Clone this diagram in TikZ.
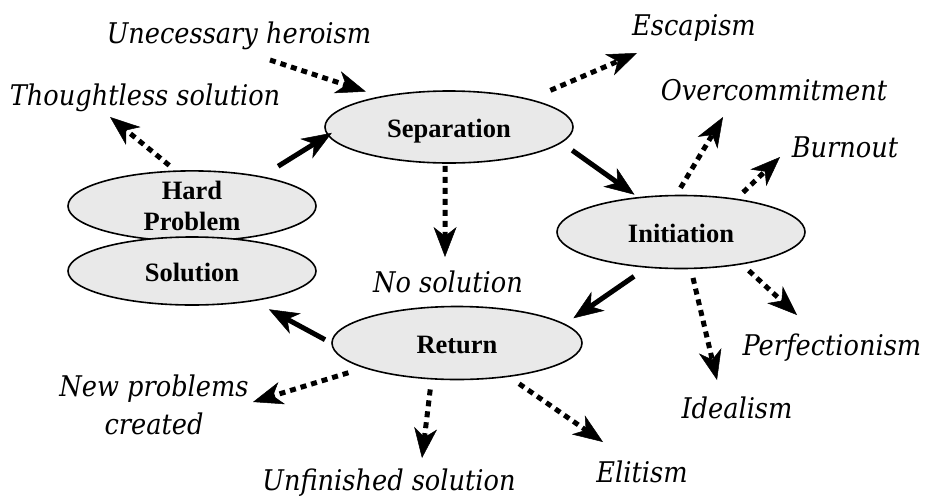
\documentclass[tikz,border=0pt]{standalone}
\usepackage{fontspec}
\setmainfont{Liberation Serif}
\newfontfamily\pitfallfont{DejaVu Serif Condensed}
\usetikzlibrary{arrows.meta,shapes.geometric}
\definecolor{ovalfill}{RGB}{233,233,233}
\begin{document}
\begin{tikzpicture}[x=1pt,y=-1pt,
  stage/.style={ellipse, draw=black, line width=1.6pt, fill=ovalfill,
    minimum width=248pt, inner sep=0pt,
    font=\fontsize{26.5}{31}\selectfont\bfseries},
  oneline/.style={text height=20pt, text depth=0pt},
  risk/.style={font=\pitfallfont\fontsize{28.5}{38}\selectfont\itshape, inner sep=0pt},
  flow/.style={line width=5pt,
    -{Stealth[length=30pt,width=23pt,inset=9pt,line width=0.5pt]}},
  pitfall/.style={flow, dash pattern=on 6pt off 5pt},
]
\useasboundingbox (0,0) rectangle (926,496);

% the stages of the cycle
\node[stage, oneline, minimum height=72pt] (sep) at (449,127) {Separation};
\node[stage, align=center, minimum height=68pt] (hard) at (192,206) {Hard\\Problem};
\node[stage, oneline, minimum height=68pt] (sol) at (192,271) {Solution};
\node[stage, oneline, minimum height=73pt] (ini) at (681,232) {Initiation};
\node[stage, oneline, minimum width=250pt, minimum height=73pt] (ret) at (457,343) {Return};

% pitfalls around the cycle
\node[risk, anchor=base] (hero)  at (239,43)  {Unecessary heroism};
\node[risk, anchor=base] (tls)   at (145,105) {Thoughtless solution};
\node[risk, anchor=base] (esc)   at (694,35)  {Escapism};
\node[risk, anchor=base] (over)  at (774,100) {Overcommitment};
\node[risk, anchor=base] (burn)  at (845,157) {Burnout};
\node[risk, anchor=base] (perf)  at (832,355) {Perfectionism};
\node[risk, anchor=base] (ideal) at (737,418) {Idealism};
\node[risk, anchor=base] (elit)  at (642,482) {Elitism};
\node[risk, anchor=base] (unf)   at (389,490) {Unfinished solution};
\node[risk, anchor=base] (nosol) at (448,292) {No solution};
\node[risk, align=center] (newp) at (154,405) {New problems\\created};

% loose ends of the pitfall arrows, next to their labels
\coordinate (hero-out) at (270,60);
\coordinate (tls-in)   at (110,117);
\coordinate (nosol-in) at (445,257);
\coordinate (esc-in)   at (637,53);
\coordinate (over-in)  at (723,117);
\coordinate (burn-in)  at (780,157);
\coordinate (perf-in)  at (797,315);
\coordinate (ideal-in) at (717,380);
\coordinate (newp-in)  at (253,402);
\coordinate (unf-in)   at (422,458);
\coordinate (elit-in)  at (603,442);

% main cycle
\draw[flow, shorten <=19pt, shorten >=-5pt] (hard.23) -- (sep.184);
\draw[flow, shorten <=13pt, shorten >=4pt]  (sep.-8) -- (ini.141);
\draw[flow, shorten <=15pt, shorten >=10pt] (ini.226) -- (ret.10);
\draw[flow, shorten <=7pt, shorten >=17pt]  (ret.180) -- (sol.-26);

% pitfalls
\draw[pitfall, shorten >=15pt] (hero-out) -- (sep.156);
\draw[pitfall, shorten <=8pt]  (hard.115) -- (tls-in);
\draw[pitfall, shorten <=2pt]  (sep.264) -- (nosol-in);
\draw[pitfall, shorten <=22pt] (sep.19) -- (esc-in);
\draw[pitfall, shorten <=8pt]  (ini.97) -- (over-in);
\draw[pitfall, shorten <=9pt]  (ini.31) -- (burn-in);
\draw[pitfall, shorten <=9pt]  (ini.-28) -- (perf-in);
\draw[pitfall, shorten <=9pt]  (ini.-75) -- (ideal-in);
\draw[pitfall, shorten <=16pt] (ret.195) -- (newp-in);
\draw[pitfall, shorten <=10pt] (ret.235) -- (unf-in);
\draw[pitfall, shorten <=12pt] (ret.-33) -- (elit-in);
\end{tikzpicture}
\end{document}
